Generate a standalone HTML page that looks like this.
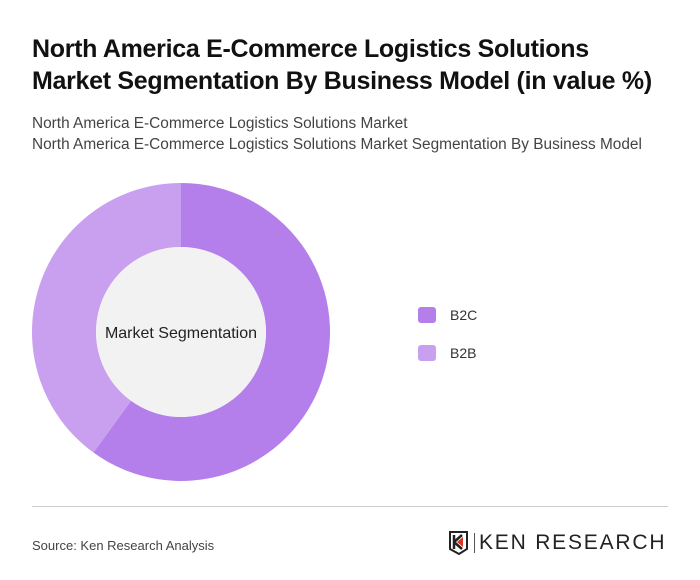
<!DOCTYPE html>
<html><head><meta charset="utf-8"><style>
body{margin:0;width:700px;height:580px;background:#fff;font-family:"Liberation Sans",sans-serif;position:relative;overflow:hidden}
.t{position:absolute;left:32px;top:33px;font-size:25px;font-weight:bold;color:#111;line-height:32px;letter-spacing:-0.3px}
.s{position:absolute;left:32px;top:113px;font-size:15.4px;color:#444;line-height:21px}
.src{position:absolute;left:32px;top:538px;font-size:13px;color:#444}
.hr{position:absolute;left:32px;top:506px;width:636px;height:1px;background:#ccc}
</style></head><body>
<div class="t">North America E-Commerce Logistics Solutions<br>Market Segmentation By Business Model (in value %)</div>
<div class="s">North America E-Commerce Logistics Solutions Market<br>North America E-Commerce Logistics Solutions Market Segmentation By Business Model</div>
<svg id="c" width="700" height="580" style="position:absolute;left:0;top:0"></svg>
<div class="hr"></div>
<div class="src">Source: Ken Research Analysis</div>
<div style="position:absolute;left:448px;top:531px;height:24px;display:flex;align-items:center">
<svg width="22" height="24"><path d="M2 1h17v17l-8 5-9-5z" fill="none" stroke="#222" stroke-width="2"/><path d="M6 4v14M6 11l8-7M6 11l8 7" stroke="#222" stroke-width="2.5" fill="none"/><path d="M9 11l6-5v10z" fill="#d32"/></svg>
<div style="width:1px;height:20px;background:#555;margin:0 4px"></div>
<span style="font-size:21px;letter-spacing:1.8px;color:#222;font-family:'Liberation Sans',sans-serif">KEN RESEARCH</span></div>
<script>
const labels=["B2C","B2B"];
const values=[60,40];
const colors=["#b47fea","#c9a0ef"];
const svg=document.getElementById('c');const NS="http://www.w3.org/2000/svg";
const cx=181,cy=332,R=149,r=85;
const total=values.reduce((a,b)=>a+b,0);
let a0=0;
function pt(a,rad){return [cx+rad*Math.sin(a),cy-rad*Math.cos(a)];}
values.forEach((v,i)=>{
const a1=a0+v/total*2*Math.PI;const lg=(a1-a0)>Math.PI?1:0;
const [x1,y1]=pt(a0,R),[x2,y2]=pt(a1,R),[x3,y3]=pt(a1,r),[x4,y4]=pt(a0,r);
const p=document.createElementNS(NS,'path');
p.setAttribute('d',`M${x1} ${y1}A${R} ${R} 0 ${lg} 1 ${x2} ${y2}L${x3} ${y3}A${r} ${r} 0 ${lg} 0 ${x4} ${y4}Z`);
p.setAttribute('fill',colors[i]);


svg.appendChild(p);a0=a1;
const sw=document.createElementNS(NS,'rect');
sw.setAttribute('x',418);sw.setAttribute('y',307+i*38);sw.setAttribute('width',18);sw.setAttribute('height',16);sw.setAttribute('rx',3);sw.setAttribute('fill',colors[i]);


svg.appendChild(sw);
const t=document.createElementNS(NS,'text');
t.setAttribute('x',450);t.setAttribute('y',320+i*38);t.setAttribute('font-size','14');t.setAttribute('fill','#333');t.textContent=labels[i];


svg.appendChild(t);
});
const c=document.createElementNS(NS,'circle');c.setAttribute('cx',cx);c.setAttribute('cy',cy);c.setAttribute('r',r);c.setAttribute('fill','#f2f2f2');


svg.appendChild(c);
const ct=document.createElementNS(NS,'text');ct.setAttribute('x',cx);ct.setAttribute('y',cy+6);ct.setAttribute('text-anchor','middle');ct.setAttribute('font-size','16');ct.setAttribute('fill','#222');ct.textContent='Market Segmentation';


svg.appendChild(ct);
</script>
</body></html>
